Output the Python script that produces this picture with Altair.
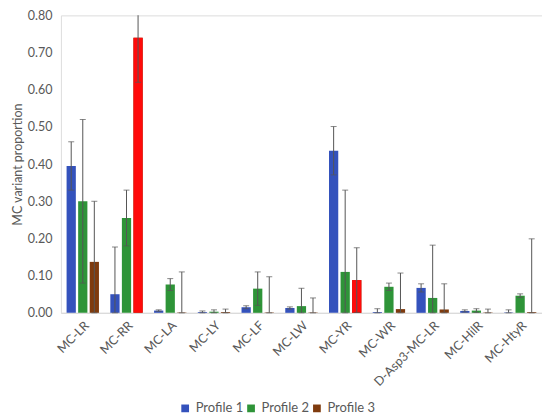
import altair as alt
import pandas as pd

categories = ["MC-LR", "MC-RR", "MC-LA", "MC-LY", "MC-LF", "MC-LW", "MC-YR",
              "MC-WR", "D-Asp3-MC-LR", "MC-HilR", "MC-HtyR"]
profiles = ["Profile 1", "Profile 2", "Profile 3"]
p1 = [0.395, 0.050, 0.006, 0.002, 0.015, 0.013, 0.436, 0.002, 0.067, 0.005, 0.001]
p1_err = [0.065, 0.127, 0.002, 0.003, 0.004, 0.003, 0.065, 0.009, 0.011, 0.003, 0.007]
p2 = [0.300, 0.255, 0.076, 0.003, 0.065, 0.018, 0.110, 0.070, 0.040, 0.006, 0.046]
p2_err = [0.220, 0.075, 0.016, 0.005, 0.045, 0.048, 0.220, 0.010, 0.142, 0.005, 0.005]
p3 = [0.137, 0.740, 0.001, 0.002, 0.001, 0.001, 0.088, 0.010, 0.009, 0.001, 0.002]
p3_err = [0.163, 0.120, 0.109, 0.008, 0.096, 0.039, 0.087, 0.097, 0.069, 0.009, 0.197]
y_ticks = [0, 0.1, 0.2, 0.3, 0.4, 0.5, 0.6, 0.7, 0.8]
red_bars = [("MC-RR", "Profile 3"), ("MC-YR", "Profile 3")]
colors = ["#3452bc", "#2e9438", "#7f3b0e"]

rows = []
for prof, vals, errs in zip(profiles, [p1, p2, p3], [p1_err, p2_err, p3_err]):
    for c, v, e in zip(categories, vals, errs):
        rows.append({"cat": c, "profile": prof, "value": v,
                     "lo": max(0.0, v - e), "hi": v + e,
                     "red": (c, prof) in red_bars})
df = pd.DataFrame(rows)

FONT = "Lato"
GRAY = "#595959"

x_scale = alt.Scale(paddingInner=0.26, paddingOuter=0.13)
x_axis = alt.Axis(labelAngle=-45, labelAlign="right", labelBaseline="top",
                  ticks=False, domainColor="#d9d9d9", labelFont=FONT,
                  labelFontSize=12.5, labelColor=GRAY, labelPadding=6,
                  labelOverlap=False)
y_axis = alt.Axis(values=y_ticks, format=".2f", grid=False, domain=False, ticks=False,
                  labelOverlap=False,
                  labelFont=FONT, labelFontSize=12.5, labelColor=GRAY,
                  titleFont=FONT, titleFontSize=12.5, titleColor=GRAY,
                  titleFontWeight="normal", labelPadding=9, titlePadding=3)
y_scale = alt.Scale(domain=[0, 0.8], nice=False)
YT = "MC variant proportion"


def xe():
    return alt.X("cat:N", sort=categories, title=None, scale=x_scale, axis=x_axis)


def ye(field):
    return alt.Y(field, scale=y_scale, title=YT, axis=y_axis)


xo = alt.XOffset("profile:N", sort=profiles, scale=alt.Scale(paddingInner=0.2))

base = alt.Chart(df)

bars = base.mark_bar().encode(
    x=xe(), xOffset=xo, y=ye("value:Q"),
    color=alt.Color("profile:N", sort=profiles,
                    scale=alt.Scale(domain=profiles, range=colors),
                    legend=alt.Legend(title=None, orient="none", direction="horizontal",
                                      legendX=118, legendY=387,
                                      symbolType="square", symbolSize=60,
                                      labelFont=FONT, labelFontSize=13, labelColor=GRAY,
                                      columnPadding=1, symbolStrokeWidth=0)),
)

red = base.transform_filter("datum.red").mark_bar(color="#ff0a0a").encode(
    x=xe(), xOffset=xo, y=ye("value:Q"))

rule = base.mark_rule(color="#555555", strokeWidth=1, clip=True).encode(
    x=xe(), xOffset=xo, y=ye("lo:Q"), y2="hi:Q")

cap_hi = base.transform_filter("datum.hi <= 0.8").mark_tick(
    color="#555555", thickness=1, size=6).encode(
    x=xe(), xOffset=xo, y=ye("hi:Q"))

cap_lo = base.mark_tick(color="#555555", thickness=1, size=6).encode(
    x=xe(), xOffset=xo, y=ye("lo:Q"))

chart = alt.layer(bars, red, rule, cap_hi, cap_lo).properties(
    width=482, height=298,
    autosize=alt.AutoSizeParams(type="none"),
    padding={"left": 53, "top": 7, "right": 0, "bottom": 105}
).configure_view(stroke=None).configure(background="white")

chart.save("out.html", embed_options={"renderer": "svg", "actions": False})
